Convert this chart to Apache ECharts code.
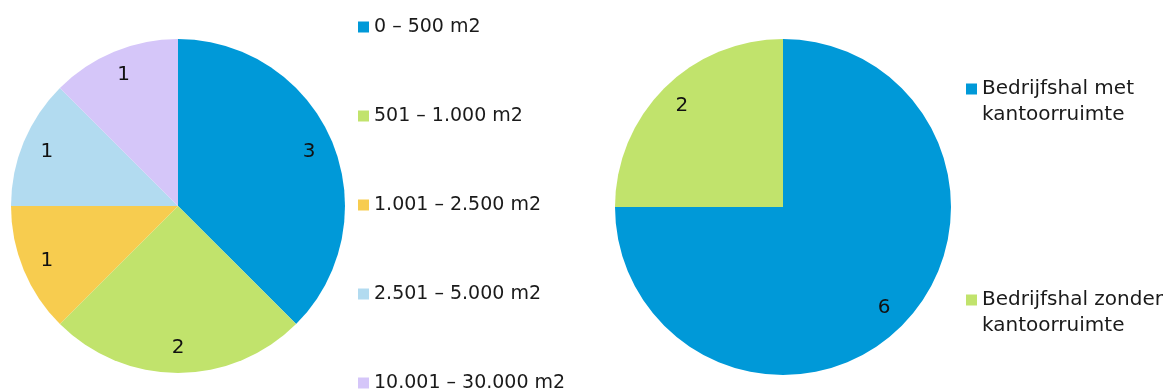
<!DOCTYPE html>
<html>
<head>
<meta charset="utf-8">
<script src="https://cdn.jsdelivr.net/npm/echarts@6/dist/echarts.min.js"></script>
<style>
  html, body { margin: 0; padding: 0; background: #ffffff; }
  #chart { width: 1167px; height: 392px; }
</style>
</head>
<body>
<div id="chart"></div>
<script>
// Left pie: floor-area classes
const sizeCategories = ['0 – 500 m2', '501 – 1.000 m2', '1.001 – 2.500 m2', '2.501 – 5.000 m2', '10.001 – 30.000 m2'];
const sizeValues = [3, 2, 1, 1, 1];
const sizeColors = ['#0099D8', '#C1E36C', '#F7CC4F', '#B2DBF0', '#D5C6F9'];

// Right pie: building type
const typeCategories = ['Bedrijfshal met kantoorruimte', 'Bedrijfshal zonder kantoorruimte'];
const typeLegendLines = [['Bedrijfshal met', 'kantoorruimte'], ['Bedrijfshal zonder', 'kantoorruimte']];
const typeValues = [6, 2];
const typeColors = ['#0099D8', '#C1E36C'];

const FONT = 'DejaVu Sans';

function pieData(names, values, colors) {
  return names.map((n, i) => ({ name: n, value: values[i], itemStyle: { color: colors[i] } }));
}

// A pie pair: the filled disc, plus a transparent ring that carries the value labels
function piePair(center, radius, names, values, colors) {
  return [
    {
      type: 'pie', center: center, radius: [0, radius], startAngle: 90, clockwise: true,
      data: pieData(names, values, colors),
      label: { show: false }, labelLine: { show: false },
      itemStyle: { borderWidth: 0 }, silent: true, animation: false
    },
    {
      type: 'pie', center: center, radius: [radius - 56, radius], startAngle: 90, clockwise: true,
      data: pieData(names, values, colors).map(d => Object.assign(d, { itemStyle: { color: 'rgba(0,0,0,0)' } })),
      label: { show: true, position: 'inside', formatter: '{c}', color: '#111', fontSize: 20, fontFamily: FONT },
      labelLine: { show: false }, silent: true, animation: false
    }
  ];
}

const chart = echarts.init(document.getElementById('chart'), null, { renderer: 'canvas' });
chart.setOption({
  backgroundColor: '#ffffff',
  animation: false,
  legend: [
    {
      data: sizeCategories,
      orient: 'vertical', left: 358, top: 16, height: 420, padding: 0,
      itemWidth: 11, itemHeight: 11, itemGap: 67,
      icon: 'rect', selectedMode: false,
      textStyle: { fontSize: 19, fontFamily: FONT, color: '#1a1a1a', lineHeight: 22 }
    },
    {
      data: typeCategories,
      orient: 'vertical', left: 966, top: 50, padding: 0,
      itemWidth: 11, itemHeight: 11, itemGap: 133,
      icon: 'rect', selectedMode: false,
      formatter: name => '\n' + typeLegendLines[typeCategories.indexOf(name)].join('\n'),
      textStyle: { fontSize: 20, fontFamily: FONT, color: '#1a1a1a', lineHeight: 26 }
    }
  ],
  series: [
    ...piePair([178, 206], 167, sizeCategories, sizeValues, sizeColors),
    ...piePair([783, 207], 168, typeCategories, typeValues, typeColors)
  ]
});
</script>
</body>
</html>
